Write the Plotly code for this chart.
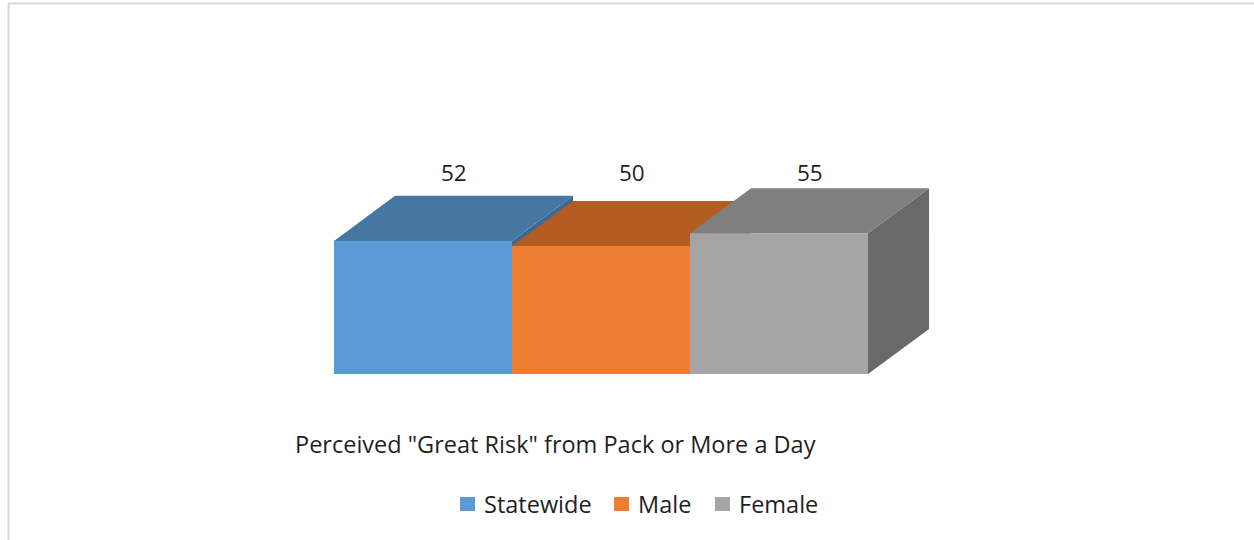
import plotly.graph_objects as go

# Survey result: share perceiving "great risk" from smoking a pack or more a day
groups = ["Statewide", "Male", "Female"]
values = [52, 50, 55]
front_colors = ["#5B9BD5", "#ED7D31", "#A5A5A5"]
top_colors = ["#4676A2", "#B35D22", "#7F7F7F"]
side_colors = ["#3D6993", "#9E5220", "#696969"]
category_label = 'Perceived "Great Risk" from Pack or More a Day'

W, H = 1254, 540

# Pseudo-3D geometry (depth of the box in axis units)
DX = 0.343
DY = 17.6
X_RANGE = [-2.3764, 4.6685]
Y_RANGE = [-64.84, 146.09]

TEXT_COLOR = "#1F1F1F"

fig = go.Figure()

shapes = []
for i, (v, tc, sc) in enumerate(zip(values, top_colors, side_colors)):
    x0, x1 = i - 0.5, i + 0.5
    # right side face
    shapes.append(dict(
        type="path", xref="x", yref="y", layer="below",
        path=f"M{x1},0 L{x1 + DX},{DY} L{x1 + DX},{v + DY} L{x1},{v} Z",
        fillcolor=sc, line=dict(width=0),
    ))
    # top face
    shapes.append(dict(
        type="path", xref="x", yref="y", layer="below",
        path=f"M{x0},{v} L{x0 + DX},{v + DY} L{x1 + DX},{v + DY} L{x1},{v} Z",
        fillcolor=tc, line=dict(width=0),
    ))

# chart border
shapes.append(dict(
    type="rect", xref="paper", yref="paper",
    x0=8.5 / W, x1=1.02, y0=-0.02, y1=1 - 3.5 / H,
    line=dict(color="#D9D9D9", width=2), fillcolor="rgba(0,0,0,0)", layer="above",
))

# front faces
for i, (g, v, fc) in enumerate(zip(groups, values, front_colors)):
    fig.add_trace(go.Bar(
        x=[i], y=[v], name=g, width=1,
        marker=dict(color=fc, line=dict(width=0)),
        hoverinfo="name+y", showlegend=False,
    ))

annotations = []
label_y = max(values) + DY + 6.3
for i, v in enumerate(values):
    annotations.append(dict(
        x=i + DX / 2, y=label_y, xref="x", yref="y",
        text=str(v), showarrow=False, yanchor="middle",
        font=dict(size=22.5, color=TEXT_COLOR),
    ))

annotations.append(dict(
    x=555 / W, y=1 - 444 / H, xref="paper", yref="paper",
    text=category_label, showarrow=False,
    xanchor="center", yanchor="middle",
    font=dict(size=23.5, color=TEXT_COLOR),
))

# legend: colour key squares with series names
legend_square_left = [460, 614, 715]
legend_text_left = [482, 636, 737]
legend_y = 504
for g, fc, sx, tx in zip(groups, front_colors, legend_square_left, legend_text_left):
    shapes.append(dict(
        type="rect", xref="paper", yref="paper",
        x0=sx / W, x1=(sx + 15) / W,
        y0=1 - (legend_y + 7) / H, y1=1 - (legend_y - 7) / H,
        fillcolor=fc, line=dict(width=0), layer="above",
    ))
    annotations.append(dict(
        x=tx / W, y=1 - legend_y / H, xref="paper", yref="paper",
        text=g, showarrow=False, xanchor="left", yanchor="middle",
        font=dict(size=23.5, color=TEXT_COLOR),
    ))

fig.update_layout(
    width=W, height=H,
    margin=dict(l=0, r=0, t=0, b=0),
    paper_bgcolor="white", plot_bgcolor="white",
    font=dict(family="Open Sans, sans-serif"),
    barmode="overlay",
    xaxis=dict(range=X_RANGE, visible=False, fixedrange=True),
    yaxis=dict(range=Y_RANGE, visible=False, fixedrange=True),
    shapes=shapes,
    annotations=annotations,
    showlegend=False,
)

fig.write_html("out.html")
